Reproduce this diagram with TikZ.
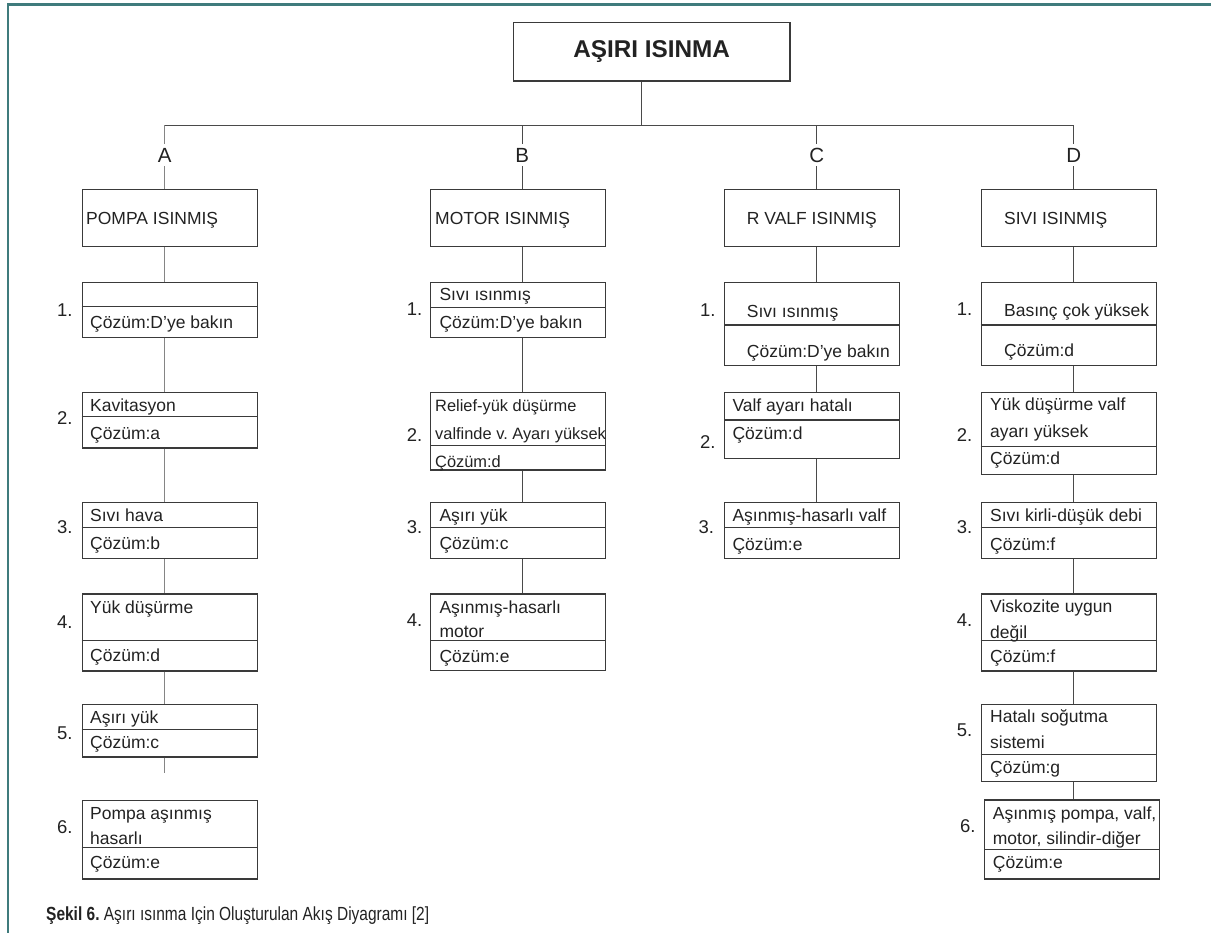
\documentclass[tikz,border=0pt]{standalone}
\usepackage{fontspec}
\setmainfont{Liberation Sans}
\newfontfamily\capfont[FakeStretch=0.815]{Liberation Sans}
\frenchspacing
\definecolor{framec}{HTML}{3F7B7C}
\definecolor{boxc}{HTML}{3A3A3A}
\definecolor{linkc}{HTML}{4A4A4A}
\definecolor{linkac}{HTML}{858585}
\definecolor{textc}{HTML}{222222}
\tikzset{
  box/.style={draw=boxc, line width=1.2pt, anchor=north west, inner sep=0pt, minimum width=175pt},
  div/.style={draw=boxc, line width=1.2pt},
  link/.style={draw=linkc, line width=1.3pt},
  linka/.style={draw=linkac, line width=1.5pt},
  txt/.style={anchor=west, inner sep=0pt, text height=12.6pt, text depth=0pt, font=\fontsize{17.5}{20}\selectfont, text=textc},
  smalltxt/.style={txt, font=\fontsize{16.4}{19}\selectfont},
  num/.style={txt, font=\fontsize{18.5}{20}\selectfont},
  letter/.style={fill=white, inner xsep=1pt, inner ysep=4pt, text height=14.3pt, text depth=0pt, font=\fontsize{20.5}{22}\selectfont, text=textc},
}
\newcommand{\itembox}[6]{%
  \node[box, minimum height={(#4-#3)*1pt}] (#1) at (#2,#3) {};
  \draw[div] (#2,#5) -- ++(#6,0);}
\begin{document}
\begin{tikzpicture}[x=1pt,y=-1pt]
\useasboundingbox (0,0) rectangle (1211,933);
\draw[draw=framec, line width=2.6pt] (1211,4.3) -- (8,4.3) -- (8,933);

% top
\node[draw=boxc, line width=1.2pt, minimum width=276.7pt, minimum height=58.3pt, inner sep=0pt,
  font=\bfseries\fontsize{24.3}{26}\selectfont, text=textc] (top) at (651.6,51.85) {AŞIRI ISINMA};
\coordinate (tj) at (641.7,125.5);
\coordinate (cA) at (164.7,125.5);
\coordinate (cB) at (522.3,125.5);
\coordinate (cC) at (816.7,125.5);
\coordinate (cD) at (1073.7,125.5);
\draw[link] (top.south -| tj) -- (tj);
\draw[link] (cA) -- (cD);

% level 1
\node[box, minimum height=56.4pt] (pA) at (81.7,189.3) {};
\node[box, minimum height=56.4pt] (pB) at (430,189.3) {};
\node[box, minimum height=56.4pt] (pC) at (724,189.3) {};
\node[box, minimum height=56.4pt] (pD) at (980.7,189.3) {};
\draw[linka] (cA) -- (pA.north -| cA);
\draw[link] (cB) -- (pB.north -| cB);
\draw[link] (cC) -- (pC.north -| cC);
\draw[link] (cD) -- (pD.north -| cD);
\node[letter] (lA) at (164.7,155) {A};
\node[letter] (lB) at (522.3,155) {B};
\node[letter] (lC) at (816.7,155) {C};
\node[letter] (lD) at (1073.7,155) {D};
\node[txt] (pAt) at (86,218) {POMPA ISINMIŞ};
\node[txt] (pBt) at (435,218) {MOTOR ISINMIŞ};
\node[txt] (pCt) at (746.7,218) {R VALF ISINMIŞ};
\node[txt] (pDt) at (1004,218) {SIVI ISINMIŞ};

% column A
\itembox{a1}{81.7}{281.7}{337.3}{306.3}{175}
\itembox{a2}{81.7}{391.7}{447.3}{416.7}{175}
\itembox{a3}{81.7}{501.7}{557.7}{527.3}{175}
\itembox{a4}{81.7}{593.3}{670.3}{640.7}{175}
\itembox{a5}{81.7}{703.7}{756.3}{729.7}{175}
\itembox{a6}{81.7}{800}{878.3}{847.5}{175}
\coordinate (a5s) at (164.7,773.3);
\draw[linka] (pA.south -| cA) -- (a1.north -| cA);
\draw[linka] (a1.south -| cA) -- (a2.north -| cA);
\draw[linka] (a2.south -| cA) -- (a3.north -| cA);
\draw[linka] (a3.south -| cA) -- (a4.north -| cA);
\draw[linka] (a4.south -| cA) -- (a5.north -| cA);
\draw[linka] (a5.south -| cA) -- (a5s);
\node[txt] (a1b) at (90,322) {Çözüm:D’ye bakın};
\node[txt] (a2a) at (90,405) {Kavitasyon};
\node[txt] (a2b) at (90,433) {Çözüm:a};
\node[txt] (a3a) at (90,515) {Sıvı hava};
\node[txt] (a3b) at (90,543) {Çözüm:b};
\node[txt] (a4a) at (90,606.7) {Yük düşürme};
\node[txt] (a4b) at (90,655) {Çözüm:d};
\node[txt] (a5a) at (90,716.7) {Aşırı yük};
\node[txt] (a5b) at (90,742) {Çözüm:c};
\node[txt] (a6a) at (90,813.3) {Pompa aşınmış};
\node[txt] (a6b) at (90,838) {hasarlı};
\node[txt] (a6c) at (90,862) {Çözüm:e};
\node[num] (na1) at (57,310) {1.};
\node[num] (na2) at (57,418.3) {2.};
\node[num] (na3) at (57,526.7) {3.};
\node[num] (na4) at (57,621.7) {4.};
\node[num] (na5) at (57,733) {5.};
\node[num] (na6) at (57,826.7) {6.};

% column B
\itembox{b1}{430}{281.7}{337.3}{307.3}{175.3}
\itembox{b2}{430}{391.7}{469.3}{445.7}{175.3}
\itembox{b3}{430}{501.7}{557.7}{527.3}{175.3}
\itembox{b4}{430}{593.3}{670}{640.7}{175.3}
\draw[link] (pB.south -| cB) -- (b1.north -| cB);
\draw[link] (b1.south -| cB) -- (b2.north -| cB);
\draw[link] (b2.south -| cB) -- (b3.north -| cB);
\draw[link] (b3.south -| cB) -- (b4.north -| cB);
\node[txt] (b1a) at (439.3,294) {Sıvı ısınmış};
\node[txt] (b1b) at (439.3,322) {Çözüm:D’ye bakın};
\node[smalltxt] (b2a) at (435,405) {Relief-yük düşürme};
\node[smalltxt] (b2b) at (435,433) {valfinde v. Ayarı yüksek};
\node[smalltxt] (b2c) at (435,461) {Çözüm:d};
\node[txt] (b3a) at (439.3,515) {Aşırı yük};
\node[txt] (b3b) at (439.3,543) {Çözüm:c};
\node[txt] (b4a) at (439.3,607) {Aşınmış-hasarlı};
\node[txt] (b4b) at (439.3,631) {motor};
\node[txt] (b4c) at (439.3,656) {Çözüm:e};
\node[num] (nb1) at (406.7,309.3) {1.};
\node[num] (nb2) at (406.7,435) {2.};
\node[num] (nb3) at (406.7,527) {3.};
\node[num] (nb4) at (406.7,620) {4.};

% column C
\itembox{c1}{724}{281.7}{365}{325}{175}
\itembox{c2}{724}{391.7}{457.7}{420}{175}
\itembox{c3}{724}{501.7}{557.7}{527.3}{175}
\draw[link] (pC.south -| cC) -- (c1.north -| cC);
\draw[link] (c1.south -| cC) -- (c2.north -| cC);
\draw[link] (c2.south -| cC) -- (c3.north -| cC);
\node[txt] (c1a) at (746.7,311.7) {Sıvı ısınmış};
\node[txt] (c1b) at (746.7,351) {Çözüm:D’ye bakın};
\node[txt] (c2a) at (732.3,405) {Valf ayarı hatalı};
\node[txt] (c2b) at (732.3,433) {Çözüm:d};
\node[txt] (c3a) at (732.3,515) {Aşınmış-hasarlı valf};
\node[txt] (c3b) at (732.3,544) {Çözüm:e};
\node[num] (nc1) at (700,310) {1.};
\node[num] (nc2) at (700,441.7) {2.};
\node[num] (nc3) at (698.5,526.7) {3.};

% column D
\itembox{d1}{980.7}{281.7}{365}{325}{176}
\itembox{d2}{980.7}{391.7}{474}{446.7}{176}
\itembox{d3}{980.7}{501.7}{557.7}{527.3}{176}
\itembox{d4}{980.7}{593.3}{670.3}{640.7}{176}
\itembox{d5}{980.7}{703.7}{780.7}{754.3}{176}
\itembox{d6}{984}{799.3}{878.3}{849.3}{175.3}
\draw[link] (pD.south -| cD) -- (d1.north -| cD);
\draw[link] (d1.south -| cD) -- (d2.north -| cD);
\draw[link] (d2.south -| cD) -- (d3.north -| cD);
\draw[link] (d3.south -| cD) -- (d4.north -| cD);
\draw[link] (d4.south -| cD) -- (d5.north -| cD);
\draw[link] (d5.south -| cD) -- (d6.north -| cD);
\node[txt] (d1a) at (1004,310) {Basınç çok yüksek};
\node[txt] (d1b) at (1004,350) {Çözüm:d};
\node[txt] (d2a) at (990,404) {Yük düşürme valf};
\node[txt] (d2b) at (990,431) {ayarı yüksek};
\node[txt] (d2c) at (990,458) {Çözüm:d};
\node[txt] (d3a) at (990,515) {Sıvı kirli-düşük debi};
\node[txt] (d3b) at (990,544) {Çözüm:f};
\node[txt] (d4a) at (990,606) {Viskozite uygun};
\node[txt] (d4b) at (990,632) {değil};
\node[txt] (d4c) at (990,656) {Çözüm:f};
\node[txt] (d5a) at (990,716) {Hatalı soğutma};
\node[txt] (d5b) at (990,742) {sistemi};
\node[txt] (d5c) at (990,767) {Çözüm:g};
\node[txt] (d6a) at (992.7,812.7) {Aşınmış pompa, valf,};
\node[txt] (d6b) at (992.7,838) {motor, silindir-diğer};
\node[txt] (d6c) at (992.7,862) {Çözüm:e};
\node[num] (nd1) at (956.7,309.3) {1.};
\node[num] (nd2) at (956.7,435) {2.};
\node[num] (nd3) at (956.7,526.7) {3.};
\node[num] (nd4) at (956.7,620) {4.};
\node[num] (nd5) at (956.7,730) {5.};
\node[num] (nd6) at (960,826) {6.};

% caption
\node[anchor=west, inner sep=0pt, text height=13.7pt, text depth=0pt, text=textc,
  font=\capfont\fontsize{19}{22}\selectfont] (cap) at (46,914)
  {\textbf{Şekil 6.} Aşırı ısınma Için Oluşturulan Akış Diyagramı [2]};
\end{tikzpicture}
\end{document}
